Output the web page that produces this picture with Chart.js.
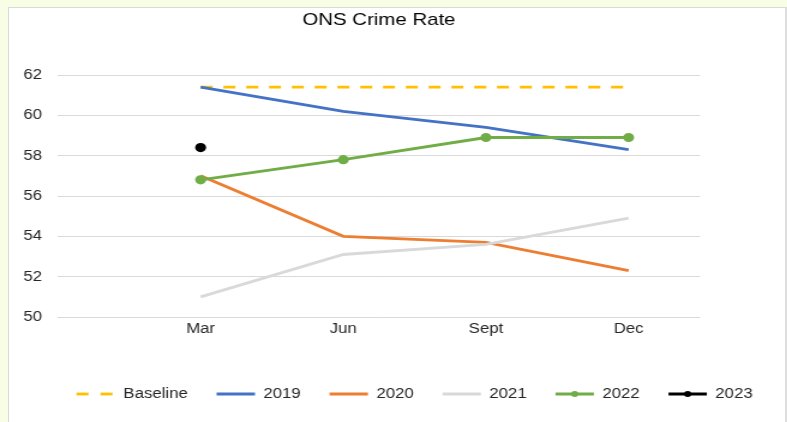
<!DOCTYPE html>
<html>
<head>
<meta charset="utf-8">
<script src="https://cdn.jsdelivr.net/npm/chart.js@4.4.1/dist/chart.umd.min.js"></script>
<style>
  body { margin: 0; background: #f8fde6; overflow: hidden; }
  #panel { position: absolute; left: 8px; top: 7px; width: 776px; height: 420px; background: #fff; border: 1px solid #d9d9d9; border-right: 2px solid #dedede; border-bottom: none; }
  /* the original picture is stretched sideways, so the chart is drawn narrow and widened */
  #crimeChart { position: absolute; left: 0; top: 0; transform: scaleX(1.2); transform-origin: 0 0; }
</style>
</head>
<body>
<div id="panel"></div>
<canvas id="crimeChart" width="656" height="422"></canvas>
<script>
const months = ['Mar', 'Jun', 'Sept', 'Dec'];
const yTicks = [50, 52, 54, 56, 58, 60, 62];

const baseline = [61.4, 61.4, 61.4, 61.4];
const rate2019 = [61.4, 60.2, 59.4, 58.3];
const rate2020 = [57.0, 54.0, 53.7, 52.3];
const rate2021 = [51.0, 53.1, 53.6, 54.9];
const rate2022 = [56.8, 57.8, 58.9, 58.9];
const rate2023 = [58.4, null, null, null];

const FONT = 'Liberation Sans';

function points(values) {
    return values.map((v, i) => ({ x: i, y: v }));
}

function series(label, values, color, extra) {
    return Object.assign({
        label: label,
        data: points(values),
        borderColor: color,
        backgroundColor: color,
        borderWidth: 2.8,
        pointRadius: 0,
        tension: 0,
        spanGaps: false,
    }, extra || {});
}

// put a dot on the legend line for series that have markers
const legendDots = {
    id: 'legendDots',
    afterDraw(chart) {
        const legend = chart.legend;
        const ctx = chart.ctx;
        legend.legendItems.forEach((item, i) => {
            const ds = chart.data.datasets[item.datasetIndex];
            if (!ds.pointRadius) return;
            const box = legend.legendHitBoxes[i];
            ctx.save();
            ctx.fillStyle = ds.borderColor;
            ctx.beginPath();
            ctx.arc(box.left + 16, box.top + box.height / 2, 3, 0, Math.PI * 2);
            ctx.fill();
            ctx.restore();
        });
    }
};

const datasets = [
    series('Baseline', baseline, '#ffc000', { borderDash: [10, 9] }),
    series('2019', rate2019, '#4472c4'),
    series('2020', rate2020, '#ed7d31'),
    series('2021', rate2021, '#d9d9d9'),
    series('2022', rate2022, '#70ad47', { pointRadius: 3.2 }),
    series('2023', rate2023, '#000000', { pointRadius: 3.2 }),
];
// later series sit on top, like the original
datasets.forEach((ds, i) => { ds.order = datasets.length - i; });

const ctx = document.querySelector('#crimeChart').getContext('2d');
new Chart(ctx, {
    type: 'line',
    data: { datasets: datasets },
    plugins: [legendDots],
    options: {
        responsive: false,
        animation: false,
        // legend sits a bit right of the plot centre in the original
        layout: { padding: { left: 18, right: -17, top: 0, bottom: 11 } },
        scales: {
            x: {
                type: 'linear',
                min: -1,
                max: 3.5,
                grid: { display: false, drawTicks: false },
                border: { display: false },
                afterBuildTicks: axis => { axis.ticks = months.map((m, i) => ({ value: i })); },
                afterFit: axis => { axis.height = 46; },
                ticks: {
                    padding: 4,
                    maxRotation: 0,
                    color: '#262626',
                    font: { family: FONT, size: 14 },
                    callback: value => months[value],
                },
            },
            y: {
                min: 50,
                max: 62,
                grid: { color: '#d9d9d9', lineWidth: 1, drawTicks: false },
                border: { display: false },
                afterBuildTicks: axis => { axis.ticks = yTicks.map(v => ({ value: v })); },
                afterFit: axis => { axis.width = 30.3; },
                ticks: {
                    padding: 13.3,
                    color: '#262626',
                    font: { family: FONT, size: 14 },
                },
            },
            spacer: {
                type: 'linear',
                position: 'right',
                grid: { display: false },
                border: { display: false },
                ticks: { display: false },
                afterFit: axis => { axis.width = 89.7; },
            },
        },
        plugins: {
            title: {
                display: true,
                text: 'ONS Crime Rate',
                fullSize: false,
                color: '#000',
                font: { family: FONT, size: 17, weight: 'normal' },
                padding: { top: 10, bottom: 44.6 },
            },
            legend: {
                position: 'bottom',
                labels: {
                    usePointStyle: true,
                    pointStyle: 'line',
                    pointStyleWidth: 32,
                    padding: 24,
                    color: '#262626',
                    font: { family: FONT, size: 14 },
                    sort: (a, b) => a.datasetIndex - b.datasetIndex,
                    // take line width and dash from the series, not from its points
                    generateLabels: chart => Chart.defaults.plugins.legend.labels.generateLabels(chart).map(item => {
                        const ds = chart.data.datasets[item.datasetIndex];
                        item.strokeStyle = ds.borderColor;
                        item.lineWidth = ds.borderWidth;
                        item.lineDash = ds.borderDash ? [10, 10] : [];
                        return item;
                    }),
                },
            },
            tooltip: { enabled: false },
        },
    },
});
</script>
</body>
</html>
